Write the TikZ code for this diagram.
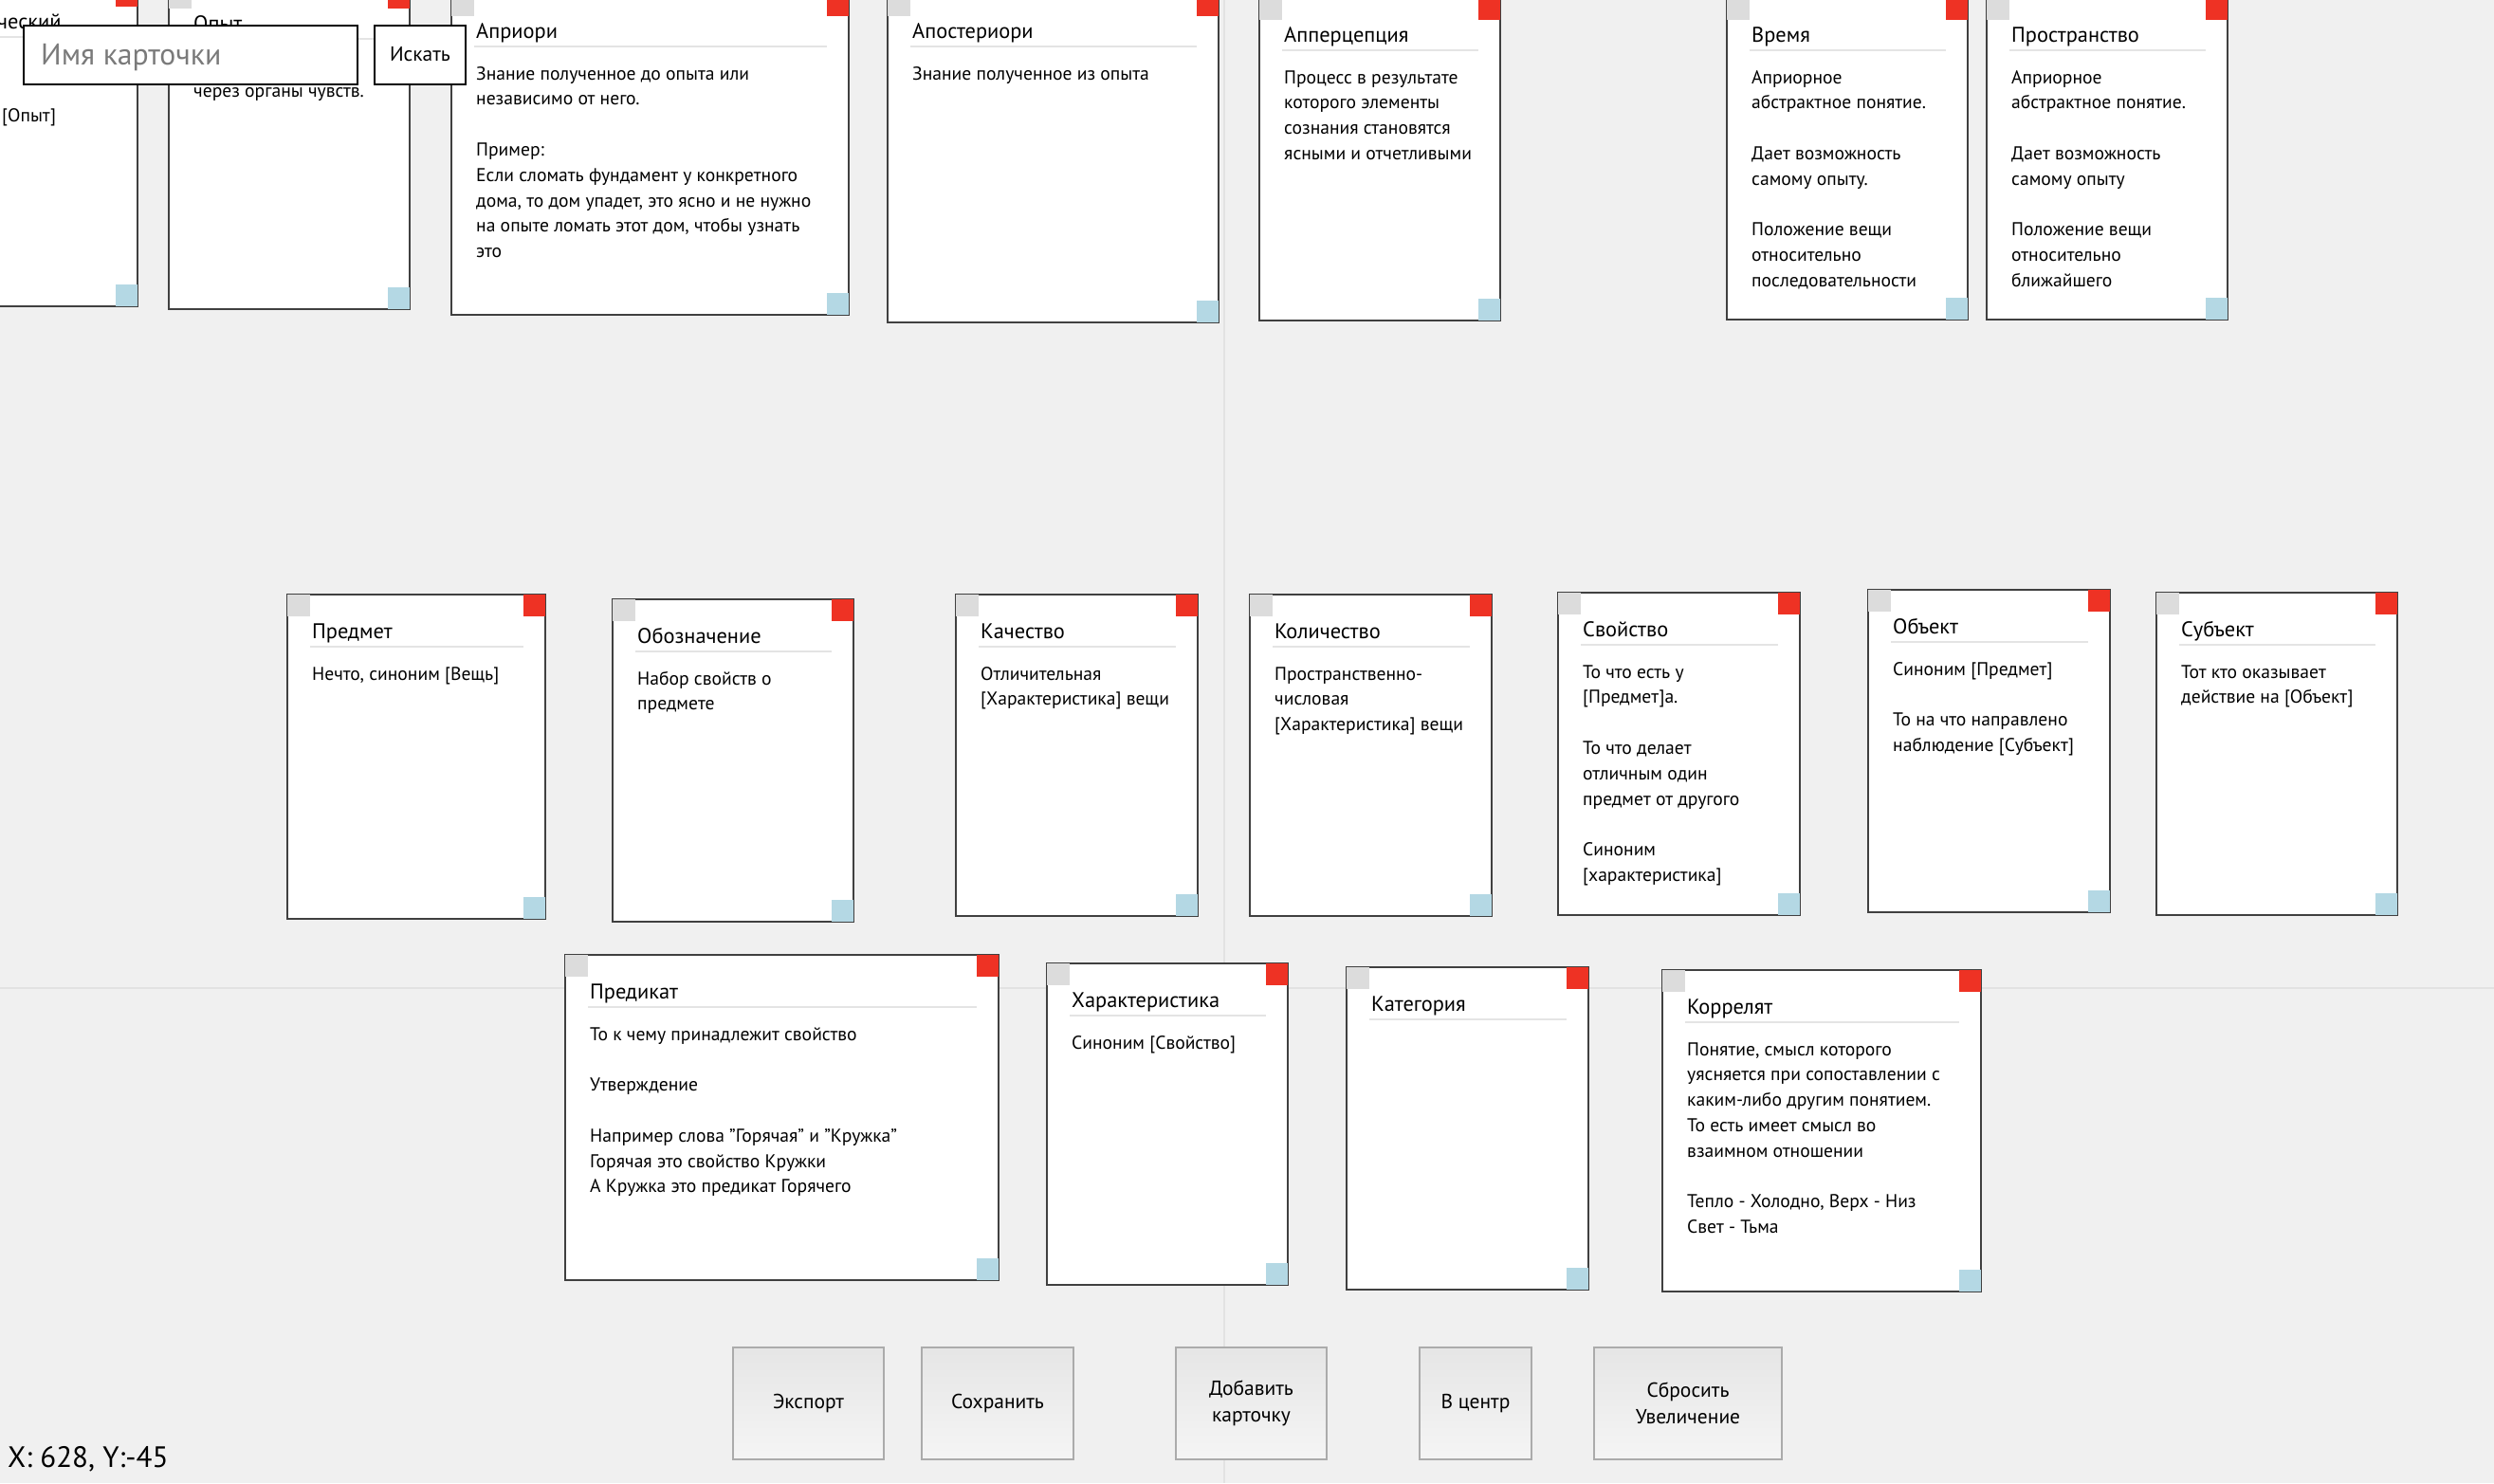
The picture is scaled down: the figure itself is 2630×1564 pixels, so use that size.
\documentclass[tikz,border=0pt]{standalone}
\usepackage{fontspec}
\setmainfont{PT Sans}
\definecolor{hinter}{HTML}{F0F0F0}
\definecolor{rot}{HTML}{EE3224}
\definecolor{blau}{HTML}{B4D8E4}
\definecolor{grau}{HTML}{DCDCDC}
\definecolor{linie}{HTML}{E4E4E4}
\definecolor{rand}{HTML}{404040}
\definecolor{gitter}{HTML}{E2E2E2}
\newcommand{\karte}[7]{%
    \filldraw[fill=white, draw=rand, line width=2pt] (#2,#3) rectangle (#4,#5);
    \fill[grau] (#2,#3) rectangle ({#2+24},{#3+23});
    \fill[rot] ({#4-23},#3) rectangle (#4,{#3+23});
    \fill[blau] ({#4-23},{#5-23}) rectangle (#4,#5);
    \draw[linie, line width=2pt] ({#2+24},{#3+55}) -- ({#4-23},{#3+55});
    \node[titel] (#1-titel) at ({#2+26},{#3+46.5}) {#6};
    \node[inhalt] (#1-text) at ({#2+26},{#3+71.2}) {\strut #7};
}
\begin{document}
\begin{tikzpicture}[x=1pt, y=-1pt,
    titel/.style={anchor=base west, inner sep=0pt, font=\fontsize{22.4}{26}\selectfont},
    inhalt/.style={anchor=north west, inner sep=0pt, align=left, font=\fontsize{19.6}{26.8}\selectfont},
    knopf/.style={draw=black!33, line width=2pt, top color=black!10, bottom color=black!4, minimum height=118pt, align=center, inner sep=0pt, font=\fontsize{21.5}{28.5}\selectfont}]
    \useasboundingbox (0,0) rectangle (2630,1564);
    \clip (0,0) rectangle (2630,1564);
    \fill[hinter] (0,0) rectangle (2630,1564);
    \draw[gitter, line width=2pt] (1291,0) -- (1291,1564);
    \draw[gitter, line width=2pt] (0,1042) -- (2630,1042);

    \karte{empir}{-109}{-16}{145}{323}{}{}
    \node[titel] (empir-rest) at (-3,30.5) {ческий};
    \node[inhalt, anchor=base west] (empir-opyt) at (2,128) {[Опыт]};
    \karte{opyt}{178}{-14}{432}{326}{Опыт}{\\через органы чувств.}
    \karte{apriori}{476}{-6}{895}{332}{Априори}{Знание полученное до опыта или\\независимо от него.\\[\baselineskip]Пример:\\Если сломать фундамент у конкретного\\дома, то дом упадет, это ясно и не нужно\\на опыте ломать этот дом, чтобы узнать\\это}
    \karte{aposteriori}{936}{-6}{1285}{340}{Апостериори}{Знание полученное из опыта}
    \karte{apperz}{1328}{-2}{1582}{338}{Апперцепция}{Процесс в результате\\которого элементы\\сознания становятся\\ясными и отчетливыми}
    \karte{zeit}{1821}{-2}{2075}{337}{Время}{Априорное\\абстрактное понятие.\\[\baselineskip]Дает возможность\\самому опыту.\\[\baselineskip]Положение вещи\\относительно\\последовательности}
    \karte{raum}{2095}{-2}{2349}{337}{Пространство}{Априорное\\абстрактное понятие.\\[\baselineskip]Дает возможность\\самому опыту\\[\baselineskip]Положение вещи\\относительно\\ближайшего}

    \karte{predmet}{303}{627}{575}{969}{Предмет}{Нечто, синоним [Вещь]}
    \karte{oboznach}{646}{632}{900}{972}{Обозначение}{Набор свойств о\\предмете}
    \karte{kachestvo}{1008}{627}{1263}{966}{Качество}{Отличительная\\{}[Характеристика] вещи}
    \karte{kolichestvo}{1318}{627}{1573}{966}{Количество}{Пространственно-\\числовая\\{}[Характеристика] вещи}
    \karte{svoystvo}{1643}{625}{1898}{965}{Свойство}{То что есть у\\{}[Предмет]а.\\[\baselineskip]То что делает\\отличным один\\предмет от другого\\[\baselineskip]Синоним\\{}[характеристика]}
    \karte{objekt}{1970}{622}{2225}{962}{Объект}{Синоним [Предмет]\\[\baselineskip]То на что направлено\\наблюдение [Субъект]}
    \karte{subjekt}{2274}{625}{2528}{965}{Субъект}{Тот кто оказывает\\действие на [Объект]}

    \karte{predikat}{596}{1007}{1053}{1350}{Предикат}{То к чему принадлежит свойство\\[\baselineskip]Утверждение\\[\baselineskip]Например слова "Горячая" и "Кружка"\\Горячая это свойство Кружки\\А Кружка это предикат Горячего}
    \karte{harakter}{1104}{1016}{1358}{1355}{Характеристика}{Синоним [Свойство]}
    \karte{kategorie}{1420}{1020}{1675}{1360}{Категория}{}
    \karte{korrelat}{1753}{1023}{2089}{1362}{Коррелят}{Понятие, смысл которого\\уясняется при сопоставлении с\\каким-либо другим понятием.\\То есть имеет смысл во\\взаимном отношении\\[\baselineskip]Тепло - Холодно, Верх - Низ\\Свет - Тьма}

    \filldraw[fill=white, draw=black, line width=2.5pt] (25,27) rectangle (377,89);
    \node[anchor=base west, inner sep=0pt, text=black!52, font=\fontsize{31.7}{36}\selectfont] (suche) at (43,68) {Имя карточки};
    \filldraw[fill=white, draw=black, line width=2.5pt] (395,27) rectangle (491,89);
    \node[inner sep=0pt, font=\fontsize{21.5}{26}\selectfont] (suchen) at (443,57) {Искать};

    \node[knopf, minimum width=159pt] (export) at (852.5,1480) {Экспорт};
    \node[knopf, minimum width=160pt] (sichern) at (1052,1480) {Сохранить};
    \node[knopf, minimum width=159pt] (neu) at (1319.5,1480) {Добавить\\карточку};
    \node[knopf, minimum width=118pt] (mitte) at (1556,1480) {В центр};
    \node[knopf, minimum width=198pt] (zoom) at (1780,1480) {Сбросить\\Увеличение};

    \node[anchor=base west, inner sep=0pt, font=\fontsize{31}{38}\selectfont] (pos) at (8,1547) {X: 628, Y:-45};
\end{tikzpicture}
\end{document}
